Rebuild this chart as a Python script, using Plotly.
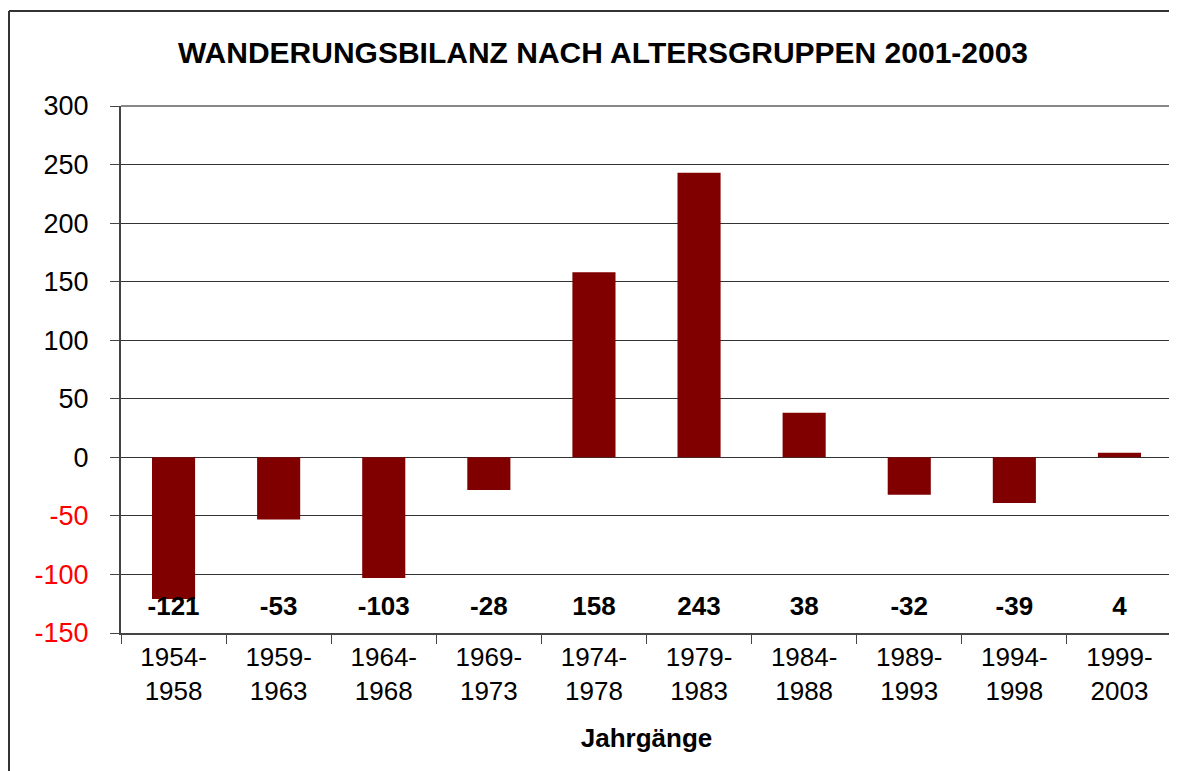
"""Wanderungsbilanz nach Altersgruppen 2001-2003 as a Plotly bar chart."""

import plotly.graph_objs as go

# Data
jahrgaenge = ['1954-<br>1958', '1959-<br>1963', '1964-<br>1968', '1969-<br>1973',
              '1974-<br>1978', '1979-<br>1983', '1984-<br>1988', '1989-<br>1993',
              '1994-<br>1998', '1999-<br>2003']
saldo = [-121, -53, -103, -28, 158, 243, 38, -32, -39, 4]
y_ticks = [300, 250, 200, 150, 100, 50, 0, -50, -100, -150]

FONT = 'Liberation Sans, Arial, sans-serif'
BAR_COLOR = '#800000'
LABEL_Y = -129  # value labels sit in a row near the bottom of the plot

# y tick labels: negatives in red
tick_text = [f"<span style='color:#ff0000'>{v}</span>" if v < 0 else str(v)
             for v in y_ticks]

fig = go.Figure()
fig.add_trace(go.Bar(
    x=jahrgaenge,
    y=saldo,
    marker={'color': BAR_COLOR, 'line': {'width': 0}},
    hoverinfo='x+y',
))
fig.add_trace(go.Scatter(
    x=jahrgaenge,
    y=[LABEL_Y] * len(saldo),
    mode='text',
    text=[f'<b>{v}</b>' for v in saldo],
    textfont={'family': FONT, 'size': 26, 'color': '#000000'},
    hoverinfo='skip',
))

# the page has an 8px body margin, so the figure is shifted by that much
px_w, px_h = 1169, 763
m_l, m_r, m_t, m_b = 113, 5, 98, 138
plot_w = px_w - m_l - m_r
plot_h = px_h - m_t - m_b

fig.update_layout(
    width=px_w,
    height=px_h,
    margin={'l': m_l, 'r': m_r, 't': m_t, 'b': m_b, 'pad': 0},
    paper_bgcolor='white',
    plot_bgcolor='white',
    showlegend=False,
    bargap=0.59,
    font={'family': FONT, 'color': '#000000'},
    title={
        'text': '<b>WANDERUNGSBILANZ NACH ALTERSGRUPPEN 2001-2003</b>',
        'font': {'family': FONT, 'size': 30, 'color': '#000000'},
        'x': 595 / px_w, 'xanchor': 'center',
        'y': 1 - 44 / px_h, 'yanchor': 'middle',
    },
    xaxis={
        'title': {'text': '<b>Jahrgänge</b>',
                  'font': {'family': FONT, 'size': 26}, 'standoff': 24},
        'tickfont': {'family': FONT, 'size': 26},
        'tickson': 'boundaries',
        'ticks': 'outside',
        'ticklen': 9,
        'tickcolor': '#444444',
        'showline': True,
        'linecolor': '#444444',
        'linewidth': 2,
        'showgrid': False,
        'mirror': False,
    },
    yaxis={
        'range': [-150, 300],
        'tickvals': y_ticks,
        'ticktext': tick_text,
        'tickfont': {'family': FONT, 'size': 27},
        'ticks': 'outside',
        'ticklen': 9,
        'tickcolor': '#444444',
        'showline': True,
        'linecolor': '#444444',
        'linewidth': 2,
        'showgrid': True,
        'gridcolor': '#333333',
        'gridwidth': 1,
        'zeroline': True,
        'zerolinecolor': '#333333',
        'zerolinewidth': 1,
        'ticklabelstandoff': 16,
    },
)

# gray border on top and right of the plot area
fig.add_shape(type='line', xref='paper', yref='paper', x0=0, x1=1, y0=1, y1=1,
              line={'color': '#888888', 'width': 2})
fig.add_shape(type='line', xref='paper', yref='paper', x0=1, x1=1, y0=0, y1=1,
              line={'color': '#888888', 'width': 2})

# outer chart frame: only its left and top edges fall inside the picture
frame_x = (1 - m_l) / plot_w
frame_y = (m_t + plot_h - 3) / plot_h
fig.add_shape(type='line', xref='paper', yref='paper',
              x0=frame_x, x1=frame_x, y0=-0.5, y1=frame_y,
              line={'color': '#333333', 'width': 2}, layer='below')
fig.add_shape(type='line', xref='paper', yref='paper',
              x0=frame_x, x1=1.2, y0=frame_y, y1=frame_y,
              line={'color': '#333333', 'width': 2}, layer='below')

fig.write_html("out.html")
